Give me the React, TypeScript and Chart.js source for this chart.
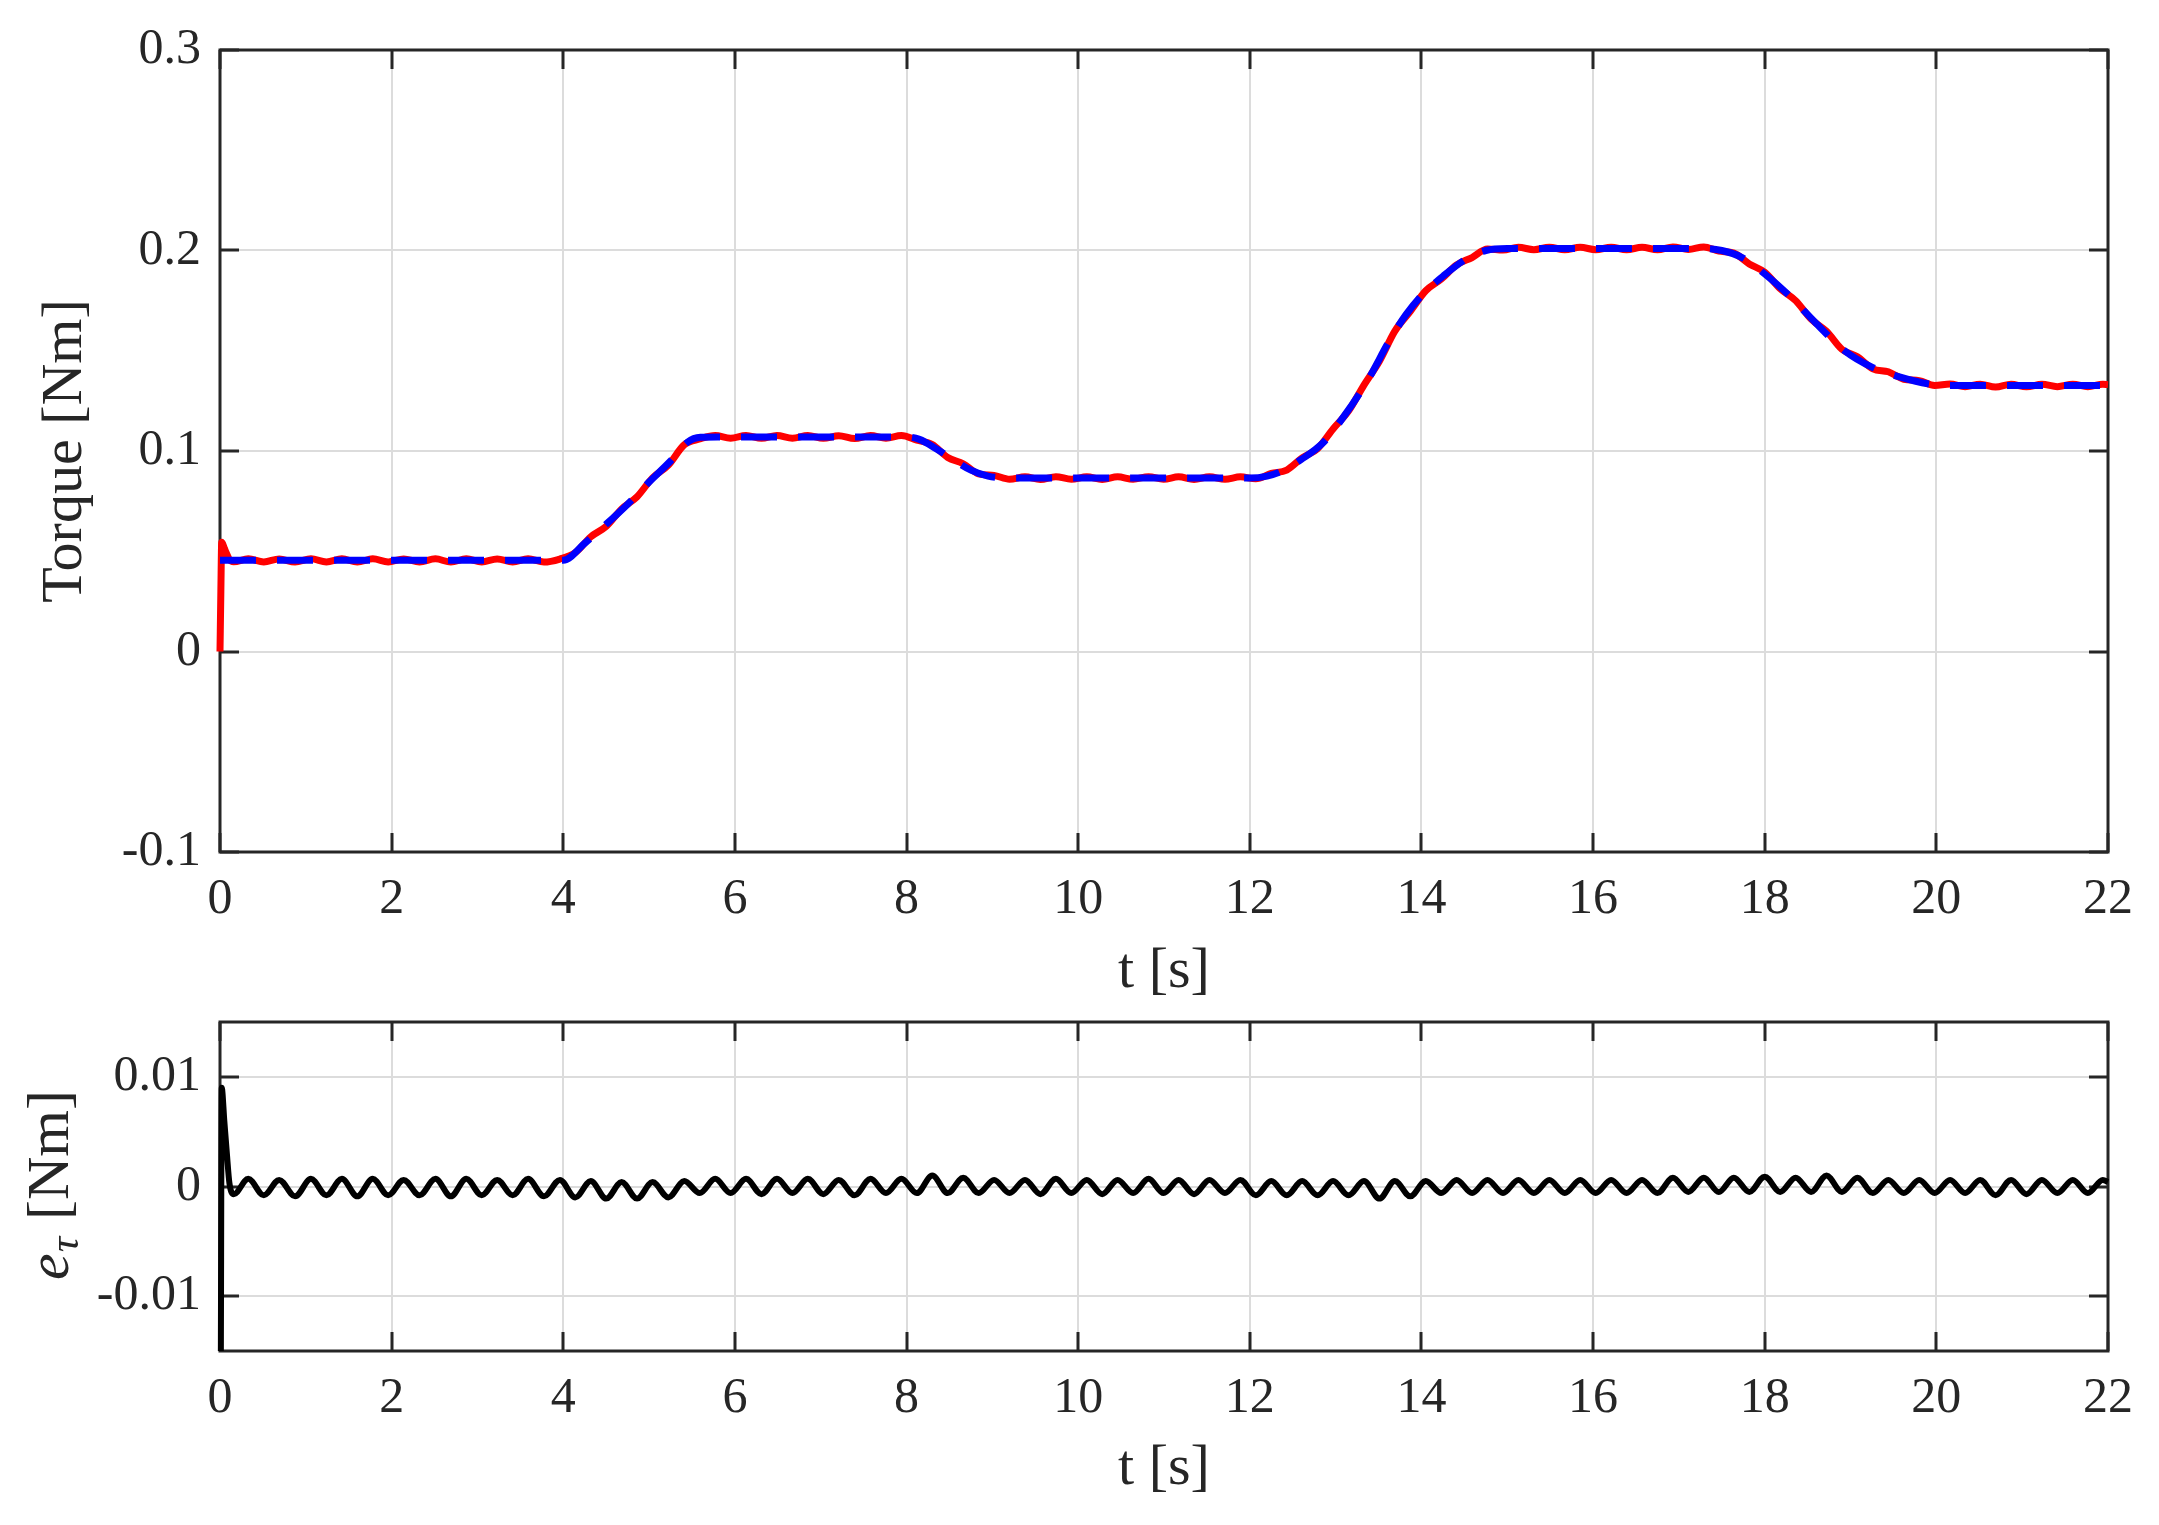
import React, { useEffect, useRef } from 'react';
import { Chart, registerables } from 'chart.js';

Chart.register(...registerables);

// ---------- tick values / labels ----------
const xTicks = [0, 2, 4, 6, 8, 10, 12, 14, 16, 18, 20, 22];
const xTickLabels = ['0', '2', '4', '6', '8', '10', '12', '14', '16', '18', '20', '22'];
const torqueTicks = [-0.1, 0, 0.1, 0.2, 0.3];
const torqueTickLabels = ['-0.1', '0', '0.1', '0.2', '0.3'];
const errTicks = [-0.01, 0, 0.01];
const errTickLabels = ['-0.01', '0', '0.01'];

const TORQUE_LABEL = 'Torque [Nm]';
const TIME_LABEL = 't [s]';
const ERR_LABEL_MAIN = 'e';
const ERR_LABEL_SUB = '\u03C4';
const ERR_LABEL_UNIT = ' [Nm]';

// ---------- reference torque (blue dashed) ----------
const tRef = [0, 4.0, 4.25, 4.5, 4.75, 5.0, 5.25, 5.45, 5.6, 5.8,
  8.0, 8.15, 8.35, 8.55, 8.75, 8.95, 9.2,
  12.0, 12.2, 12.4, 12.6, 12.85, 13.1, 13.37, 13.64, 13.82, 14.0, 14.26, 14.53, 14.75, 15.0,
  17.3, 17.5, 17.73, 18.02, 18.29, 18.6, 18.93, 19.26, 19.58, 19.9, 20.2, 22.0];
const refTorque = [0.0455, 0.0455, 0.054, 0.0635, 0.0735, 0.0845, 0.095, 0.1045, 0.1068, 0.107,
  0.107, 0.1058, 0.101, 0.0955, 0.0905, 0.0875, 0.0865,
  0.0865, 0.0875, 0.0905, 0.0958, 0.104, 0.1175, 0.135, 0.156, 0.168, 0.1775, 0.1875, 0.196, 0.2, 0.201,
  0.201, 0.2, 0.1966, 0.1876, 0.1773, 0.1636, 0.150, 0.1416, 0.1368, 0.1335, 0.1327, 0.1327];

// ---------- measured torque (red) and error (black), sampled at the ripple extrema ----------
const tMeas = [0, 0.01, 0.02, 0.05, 0.08, 0.11,
  0.16, 0.33, 0.51, 0.69, 0.875, 1.06, 1.24, 1.42, 1.60, 1.78, 1.96, 2.14, 2.325, 2.51, 2.69, 2.87, 3.05, 3.23, 3.41, 3.59, 3.775, 3.96,
  4.14, 4.32, 4.50, 4.68, 4.86, 5.04, 5.225, 5.41, 5.59, 5.77, 5.95, 6.13, 6.31, 6.49, 6.67, 6.85, 7.03, 7.21, 7.395, 7.58, 7.76, 7.94,
  8.12, 8.30, 8.48, 8.66, 8.84, 9.02, 9.20, 9.38, 9.56, 9.74, 9.92, 10.10, 10.28, 10.46, 10.64, 10.82, 10.995, 11.17, 11.35, 11.53, 11.71, 11.89,
  12.07, 12.25, 12.43, 12.61, 12.79, 12.97, 13.15, 13.33, 13.51, 13.69, 13.87, 14.05, 14.23, 14.41, 14.59, 14.77, 14.95, 15.13, 15.31, 15.49, 15.67, 15.85, 16.03, 16.21, 16.39, 16.57, 16.75, 16.93,
  17.11, 17.29, 17.465, 17.64, 17.82, 18.00, 18.18, 18.36, 18.54, 18.72, 18.90, 19.08, 19.26, 19.44, 19.62, 19.80, 19.98, 20.16, 20.335, 20.51, 20.69, 20.87, 21.05, 21.23, 21.41, 21.59, 21.765, 21.94, 22.0];

const measTorque = [0, 0.03, 0.0545, 0.0515, 0.0485, 0.0458,
  0.0448, 0.0462, 0.0447, 0.0461, 0.0446, 0.0462, 0.0447, 0.0462, 0.0446, 0.0462, 0.0447, 0.0461, 0.0447, 0.0462, 0.0446, 0.0462, 0.0447, 0.0461, 0.0447, 0.0462, 0.0446, 0.0461,
  0.0493, 0.0572, 0.0624, 0.0711, 0.0772, 0.0866, 0.0930, 0.1031, 0.1060, 0.1077, 0.1064, 0.1077, 0.1063, 0.1077, 0.1064, 0.1077, 0.1063, 0.1076, 0.1062, 0.1077, 0.1064, 0.1077,
  0.1054, 0.1032, 0.0968, 0.0936, 0.0886, 0.0878, 0.0859, 0.0871, 0.0858, 0.0872, 0.0859, 0.0871, 0.0858, 0.0871, 0.0859, 0.0872, 0.0859, 0.0871, 0.0858, 0.0871, 0.0859, 0.0871,
  0.0861, 0.0888, 0.0905, 0.0966, 0.1012, 0.1110, 0.1199, 0.1329, 0.1448, 0.1598, 0.1697, 0.1799, 0.1857, 0.1928, 0.1965, 0.2007, 0.2002, 0.2016, 0.2004, 0.2016, 0.2004, 0.2016, 0.2004, 0.2016, 0.2004, 0.2016, 0.2004, 0.2018,
  0.2005, 0.2018, 0.1997, 0.1987, 0.1933, 0.1891, 0.1810, 0.1750, 0.1658, 0.1597, 0.1507, 0.1470, 0.1410, 0.1395, 0.1358, 0.1351, 0.1327, 0.1334, 0.1321, 0.1333, 0.1319, 0.1333, 0.1320, 0.1333, 0.1321, 0.1333, 0.1321, 0.1333, 0.1331];

const errTorque = [-0.0455, -0.0155, 0.009, 0.006, 0.003, 0.0003,
  -0.0007, 0.0007, -0.0008, 0.0006, -0.0009, 0.0007, -0.0008, 0.0007, -0.0009, 0.0007, -0.0008, 0.0006, -0.0008, 0.0007, -0.0009, 0.0007, -0.0008, 0.0006, -0.0008, 0.0007, -0.0009, 0.0006,
  -0.0010, 0.0005, -0.0011, 0.0004, -0.0011, 0.0004, -0.0010, 0.0005, -0.0006, 0.0007, -0.0006, 0.0007, -0.0007, 0.0007, -0.0006, 0.0007, -0.0007, 0.0006, -0.0008, 0.0007, -0.0006, 0.0007,
  -0.0006, 0.0010, -0.0006, 0.0008, -0.0006, 0.0006, -0.0006, 0.0006, -0.0007, 0.0007, -0.0006, 0.0006, -0.0007, 0.0006, -0.0006, 0.0007, -0.0006, 0.0006, -0.0007, 0.0006, -0.0006, 0.0006,
  -0.0008, 0.0005, -0.0008, 0.0005, -0.0008, 0.0005, -0.0008, 0.0005, -0.0011, 0.0005, -0.0009, 0.0005, -0.0006, 0.0006, -0.0006, 0.0006, -0.0006, 0.0006, -0.0006, 0.0006, -0.0006, 0.0006, -0.0006, 0.0006, -0.0006, 0.0006, -0.0006, 0.0008,
  -0.0005, 0.0008, -0.0005, 0.0008, -0.0005, 0.0009, -0.0005, 0.0008, -0.0005, 0.0010, -0.0005, 0.0008, -0.0006, 0.0006, -0.0006, 0.0006, -0.0006, 0.0006, -0.0006, 0.0006, -0.0008, 0.0006, -0.0007, 0.0006, -0.0006, 0.0006, -0.0006, 0.0006, 0.0004];

// ---------- styling ----------
const W = 2159;
const TOP_H = 1010;
const BOT_TOP = 950;
const BOT_H = 575;
const FAMILY = "'Liberation Serif', 'DejaVu Serif', serif";
const TICK_SIZE = 50;
const LABEL_SIZE = 58;
const INK = '#262626';
const GRID = '#dcdcdc';

const boxPlugin = {
  id: 'matlabBox',
  beforeDatasetsDraw(chart: any) {
    const { ctx, chartArea: a, scales } = chart;
    const tl = 19;
    ctx.save();
    ctx.strokeStyle = INK;
    ctx.lineWidth = 3;
    ctx.beginPath();
    scales.x.ticks.forEach((t: any) => {
      const px = Math.round(scales.x.getPixelForValue(t.value));
      ctx.moveTo(px, a.bottom); ctx.lineTo(px, a.bottom - tl);
      ctx.moveTo(px, a.top); ctx.lineTo(px, a.top + tl);
    });
    scales.y.ticks.forEach((t: any) => {
      const py = Math.round(scales.y.getPixelForValue(t.value));
      ctx.moveTo(a.left, py); ctx.lineTo(a.left + tl, py);
      ctx.moveTo(a.right, py); ctx.lineTo(a.right - tl, py);
    });
    ctx.stroke();
    ctx.strokeRect(a.left, a.top, a.right - a.left, a.bottom - a.top);
    ctx.restore();
  },
};

const errTitlePlugin = {
  id: 'errTitle',
  afterDraw(chart: any) {
    const { ctx, chartArea: a } = chart;
    const cx = 52;
    const cy = (a.top + a.bottom) / 2;
    const size = LABEL_SIZE + 2;
    ctx.save();
    ctx.translate(cx, cy);
    ctx.rotate(-Math.PI / 2);
    ctx.fillStyle = INK;
    ctx.textBaseline = 'middle';
    ctx.textAlign = 'left';
    const fMain = `italic ${size}px ${FAMILY}`;
    const fSub = `italic ${Math.round(size * 0.72)}px ${FAMILY}`;
    const fReg = `${size}px ${FAMILY}`;
    ctx.font = fMain; const we = ctx.measureText(ERR_LABEL_MAIN).width;
    ctx.font = fSub; const ws = ctx.measureText(ERR_LABEL_SUB).width;
    ctx.font = fReg; const wu = ctx.measureText(ERR_LABEL_UNIT).width;
    let x = -(we + ws + wu) / 2;
    ctx.font = fMain; ctx.fillText(ERR_LABEL_MAIN, x, 0); x += we + 1;
    ctx.font = fSub; ctx.fillText(ERR_LABEL_SUB, x, size * 0.24); x += ws + 2;
    ctx.font = fReg; ctx.fillText(ERR_LABEL_UNIT, x, 0);
    ctx.restore();
  },
};

function xScale(height: number, titlePadBottom: number) {
  return {
    type: 'linear',
    min: 0,
    max: 22,
    afterBuildTicks: (s: any) => { s.ticks = xTicks.map((v) => ({ value: v })); },
    afterFit: (s: any) => { s.height = height; },
    ticks: {
      autoSkip: false,
      maxRotation: 0,
      padding: 18,
      color: INK,
      font: { family: FAMILY, size: TICK_SIZE },
      callback: (v: any) => xTickLabels[xTicks.indexOf(v)] ?? '',
    },
    grid: { color: GRID, lineWidth: 2, drawTicks: false },
    border: { display: false },
    title: {
      display: true,
      text: TIME_LABEL,
      color: INK,
      font: { family: FAMILY, size: LABEL_SIZE },
      padding: { top: 0, bottom: titlePadBottom },
    },
  };
}

export default function App() {
  const topRef = useRef<HTMLCanvasElement | null>(null);
  const botRef = useRef<HTMLCanvasElement | null>(null);

  useEffect(() => {
    document.body.style.margin = '0';
    document.body.style.overflow = 'hidden';

    const top = new Chart(topRef.current as HTMLCanvasElement, {
      type: 'line',
      data: {
        datasets: [
          {
            data: tRef.map((t, i) => ({ x: t, y: refTorque[i] })),
            borderColor: '#0000ff',
            borderWidth: 7,
            borderDash: [36, 21],
            borderCapStyle: 'butt',
            cubicInterpolationMode: 'monotone',
            pointRadius: 0,
            clip: { left: 4, right: 4, top: 4, bottom: 4 },
            order: 0,
          },
          {
            data: tMeas.map((t, i) => ({ x: t, y: measTorque[i] })),
            borderColor: '#ff0000',
            borderWidth: 7,
            borderJoinStyle: 'round',
            cubicInterpolationMode: 'monotone',
            pointRadius: 0,
            clip: { left: 4, right: 4, top: 4, bottom: 4 },
            order: 1,
          },
        ],
      } as any,
      options: {
        animation: false,
        responsive: false,
        devicePixelRatio: 1,
        events: [],
        layout: { padding: { left: 0, top: 50, right: 51, bottom: 0 } },
        plugins: { legend: { display: false }, tooltip: { enabled: false } },
        scales: {
          x: xScale(TOP_H - 852, 3),
          y: {
            type: 'linear',
            min: -0.1,
            max: 0.3,
            afterBuildTicks: (s: any) => { s.ticks = torqueTicks.map((v) => ({ value: v })); },
            afterFit: (s: any) => { s.width = 220; },
            ticks: {
              padding: 19,
              color: INK,
              font: { family: FAMILY, size: TICK_SIZE },
              callback: (v: any) => torqueTickLabels[torqueTicks.indexOf(v)] ?? '',
            },
            grid: { color: GRID, lineWidth: 2, drawTicks: false },
            border: { display: false },
            title: {
              display: true,
              text: TORQUE_LABEL,
              color: INK,
              font: { family: FAMILY, size: LABEL_SIZE },
              padding: { top: 31, bottom: 0 },
            },
          },
        } as any,
      },
      plugins: [boxPlugin],
    });

    const bot = new Chart(botRef.current as HTMLCanvasElement, {
      type: 'line',
      data: {
        datasets: [
          {
            data: tMeas.map((t, i) => ({ x: t, y: errTorque[i] })),
            borderColor: '#000000',
            borderWidth: 6,
            borderJoinStyle: 'round',
            cubicInterpolationMode: 'monotone',
            pointRadius: 0,
            clip: { left: 4, right: 4, top: 0, bottom: 0 },
          },
        ],
      } as any,
      options: {
        animation: false,
        responsive: false,
        devicePixelRatio: 1,
        events: [],
        layout: { padding: { left: 0, top: 1022 - BOT_TOP, right: 51, bottom: 0 } },
        plugins: { legend: { display: false }, tooltip: { enabled: false } },
        scales: {
          x: xScale(BOT_H - (1351 - BOT_TOP), 21),
          y: {
            type: 'linear',
            min: -0.015,
            max: 0.015,
            afterBuildTicks: (s: any) => { s.ticks = errTicks.map((v) => ({ value: v })); },
            afterFit: (s: any) => { s.width = 220; },
            ticks: {
              padding: 19,
              color: INK,
              font: { family: FAMILY, size: TICK_SIZE },
              callback: (v: any) => errTickLabels[errTicks.indexOf(v)] ?? '',
            },
            grid: { color: GRID, lineWidth: 2, drawTicks: false },
            border: { display: false },
            title: { display: false },
          },
        } as any,
      },
      plugins: [boxPlugin, errTitlePlugin],
    });

    return () => {
      top.destroy();
      bot.destroy();
    };
  }, []);

  return (
    <div style={{ position: 'absolute', left: 0, top: 0, width: W, height: 1525, background: '#ffffff' }}>
      <canvas ref={topRef} width={W} height={TOP_H} style={{ position: 'absolute', left: 0, top: 0 }} />
      <canvas ref={botRef} width={W} height={BOT_H} style={{ position: 'absolute', left: 0, top: BOT_TOP }} />
    </div>
  );
}
